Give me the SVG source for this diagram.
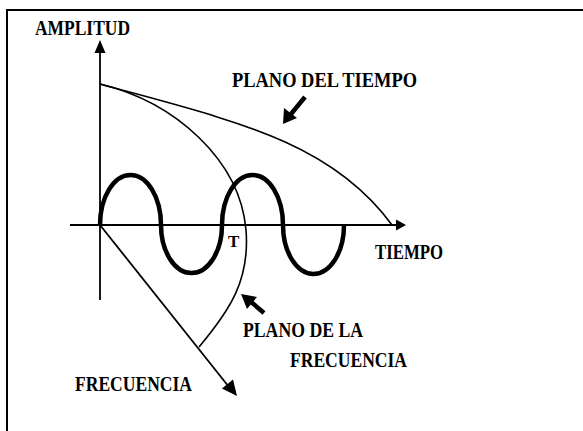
<svg xmlns="http://www.w3.org/2000/svg" width="583" height="431" viewBox="0 0 583 431">
<style>
.lbl{font-family:"Liberation Serif","Times New Roman",serif;font-weight:bold;font-size:22px;fill:#000}
.ax{stroke:#000;stroke-width:1.8;fill:none}
.cv{stroke:#000;stroke-width:1.6;fill:none}
.hd{fill:#000;stroke:none}
.ptr{stroke:#000;stroke-width:4.5;fill:none}
</style>
<rect width="583" height="431" fill="#fff"/>
<path d="M7,431 V10 H583" fill="none" stroke="#000" stroke-width="2"/>
<g id="connectors">
  <line class="ax" x1="100" y1="300" x2="100" y2="48"/>
  <polygon class="hd" points="100,40 94.5,53 105.5,53"/>
  <line class="ax" x1="70" y1="225" x2="398" y2="225"/>
  <polygon class="hd" points="406,225 396,219.5 396,230.5"/>
  <line class="ax" x1="100" y1="225" x2="229" y2="387"/>
  <polygon class="hd" points="237,396 222,388.5 233,379.5"/>
  <path class="cv" d="M100,84 C230,120 330,140 392,225"/>
  <path class="cv" d="M100,84 C175,102 240,160 246,230 C250,280 230,310 199,347"/>
  <path d="M100,225 A30.5,50 0 0 1 161,225 A30.5,48 0 0 0 222,225 A30.5,50 0 0 1 283,225 A30.5,49 0 0 0 344,225" fill="none" stroke="#000" stroke-width="4.5"/>
  <line class="ptr" x1="305" y1="97" x2="291" y2="114"/>
  <polygon class="hd" points="283,124 284,108 297,118"/>
  <line class="ptr" x1="264" y1="313" x2="250" y2="301"/>
  <polygon class="hd" points="241,294 257,297 247,309"/>
</g>
<g id="amplitud"><text class="lbl" x="35" y="35" textLength="95" lengthAdjust="spacingAndGlyphs">AMPLITUD</text></g>
<g id="plano-tiempo"><text class="lbl" x="232" y="87" textLength="185" lengthAdjust="spacingAndGlyphs">PLANO DEL TIEMPO</text></g>
<g id="tiempo"><text class="lbl" x="375" y="259" textLength="68" lengthAdjust="spacingAndGlyphs">TIEMPO</text></g>
<g id="t"><text class="lbl" x="228" y="247" style="font-size:17px">T</text></g>
<g id="plano-frecuencia">
  <text class="lbl" x="243" y="337" textLength="120" lengthAdjust="spacingAndGlyphs">PLANO DE LA</text>
  <text class="lbl" x="290" y="367" textLength="117" lengthAdjust="spacingAndGlyphs">FRECUENCIA</text>
</g>
<g id="frecuencia"><text class="lbl" x="75" y="391" textLength="117" lengthAdjust="spacingAndGlyphs">FRECUENCIA</text></g>
</svg>
